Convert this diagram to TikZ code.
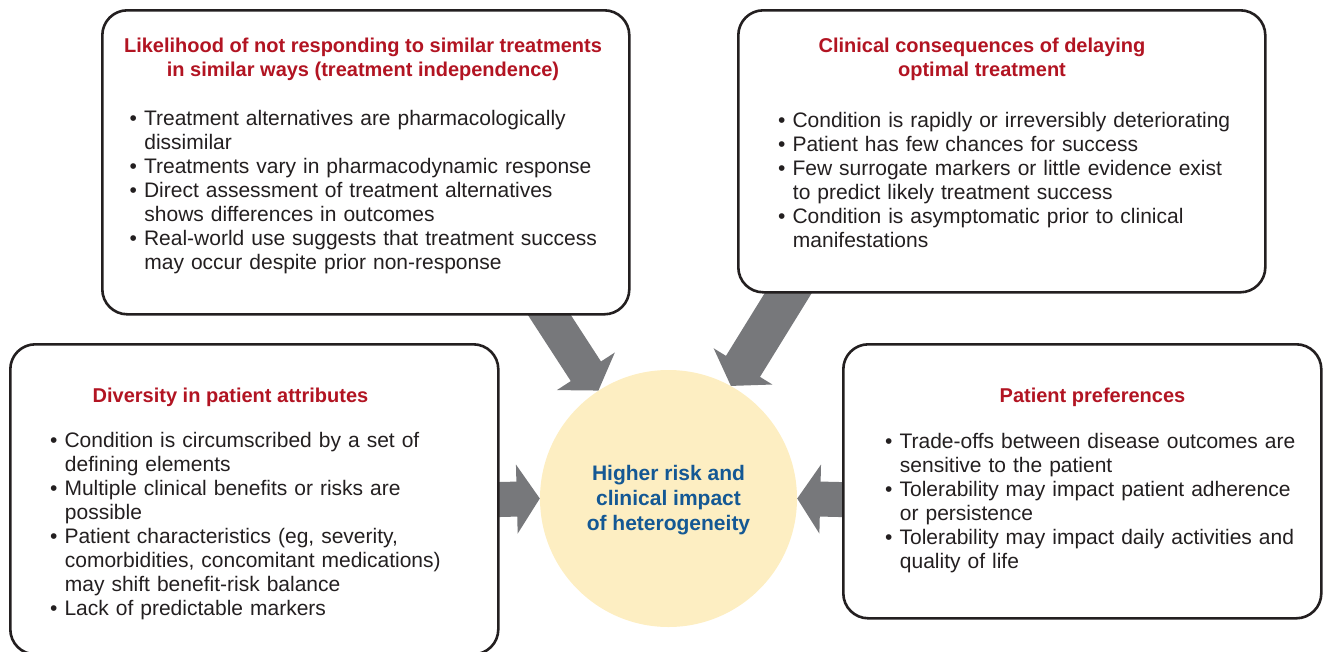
\documentclass[tikz,border=0pt]{standalone}
\usepackage{fontspec}
\setmainfont{Liberation Sans}
\usetikzlibrary{arrows.meta}

\definecolor{edge}{RGB}{35,31,32}
\definecolor{titlered}{RGB}{178,20,34}
\definecolor{hubblue}{RGB}{20,88,148}
\definecolor{hubfill}{RGB}{253,238,194}
\definecolor{shaftgray}{RGB}{119,120,123}
\definecolor{bodytext}{RGB}{35,31,32}

\newcommand\bodyfont{\fontsize{21}{24.1}\selectfont}
\newcommand\headfont{\fontsize{20}{24}\selectfont\bfseries}
\newcommand\hubfont{\fontsize{21}{25}\selectfont\bfseries}
% first line of a bulleted entry, and a wrapped line indented under its text
\newcommand\bitem{\textbullet\ }
\newcommand\bcont{\hspace*{14.7pt}}

\pgfdeclarelayer{back}
\pgfdeclarelayer{mid}
\pgfsetlayers{back,mid,main}

\tikzset{
  panel/.style={draw=edge, line width=2.6pt, fill=white, rounded corners=25pt,
    anchor=north west, inner sep=0},
  head/.style={font=\headfont, text=titlered, align=center, inner sep=0},
  body/.style={font=\bodyfont, text=bodytext, text width=560pt, align=left,
    inner sep=0, anchor=north west},
  hubtext/.style={font=\hubfont, text=hubblue, align=center, inner sep=0},
  bigarrow/.style={draw=shaftgray, line width=#1,
    -{Triangle[width=68pt,length=23pt]}},
}

\begin{document}
\begin{tikzpicture}[x=1pt,y=-1pt]
\useasboundingbox (0,0) rectangle (1324,651);
\clip (0,0) rectangle (1324,651);

% the four panels
\node[panel, minimum width=527pt, minimum height=304pt] (tl) at (101,9) {};
\node[panel, minimum width=527pt, minimum height=282pt] (tr) at (737,9) {};
\node[panel, minimum width=488pt, minimum height=310pt] (bl) at (9,343) {};
\node[panel, minimum width=478pt, minimum height=274pt] (br) at (842,343) {};

% central circle
\begin{pgfonlayer}{back}
\node[circle, fill=hubfill, minimum size=257pt, inner sep=0] (hub) at (668.5,498.5) {};
\end{pgfonlayer}
\node[hubtext] (hublabel) at (668.5,500.5) {Higher risk and\\clinical impact\\of heterogeneity};

% arrows from the panels into the circle
\coordinate (tlout) at (537,296);
\coordinate (trout) at (800,274);
\coordinate (blout) at (480,500);
\coordinate (brout) at (860,500);
\begin{pgfonlayer}{mid}
\draw[bigarrow=36pt] (tlout) -- (hub.123);
\draw[bigarrow=40pt] (trout) -- (hub.61.5);
\draw[bigarrow=35pt] (blout) -- (hub.180);
\draw[bigarrow=35pt] (brout) -- (hub.0);
\end{pgfonlayer}

% panel titles
\node[head, anchor=north] (tlhead) at (363,35.2)
  {\strut Likelihood of not responding to similar treatments\\in similar ways (treatment independence)};
\node[head, anchor=north] (trhead) at (982,35.2)
  {\strut Clinical consequences of delaying\\optimal treatment};
\node[head, anchor=base] (blhead) at (230.5,402) {Diversity in patient attributes};
\node[head, anchor=base] (brhead) at (1092.5,402) {Patient preferences};

% panel bullet lists
\node[body] (tlbody) at (129.5,108.1) {\strut
  \bitem Treatment alternatives are pharmacologically\\
  \bcont dissimilar\\
  \bitem Treatments vary in pharmacodynamic response\\
  \bitem Direct assessment of treatment alternatives\\
  \bcont shows differences in outcomes\\
  \bitem Real-world use suggests that treatment success\\
  \bcont may occur despite prior non-response};
\node[body] (trbody) at (778,110.1) {\strut
  \bitem Condition is rapidly or irreversibly deteriorating\\
  \bitem Patient has few chances for success\\
  \bitem Few surrogate markers or little evidence exist\\
  \bcont to predict likely treatment success\\
  \bitem Condition is asymptomatic prior to clinical\\
  \bcont manifestations};
\node[body] (blbody) at (50,430.1) {\strut
  \bitem Condition is circumscribed by a set of\\
  \bcont defining elements\\
  \bitem Multiple clinical benefits or risks are\\
  \bcont possible\\
  \bitem Patient characteristics (eg, severity,\\
  \bcont comorbidities, concomitant medications)\\
  \bcont may shift benefit-risk balance\\
  \bitem Lack of predictable markers};
\node[body] (brbody) at (885,431.1) {\strut
  \bitem Trade-offs between disease outcomes are\\
  \bcont sensitive to the patient\\
  \bitem Tolerability may impact patient adherence\\
  \bcont or persistence\\
  \bitem Tolerability may impact daily activities and\\
  \bcont quality of life};
\end{tikzpicture}
\end{document}
